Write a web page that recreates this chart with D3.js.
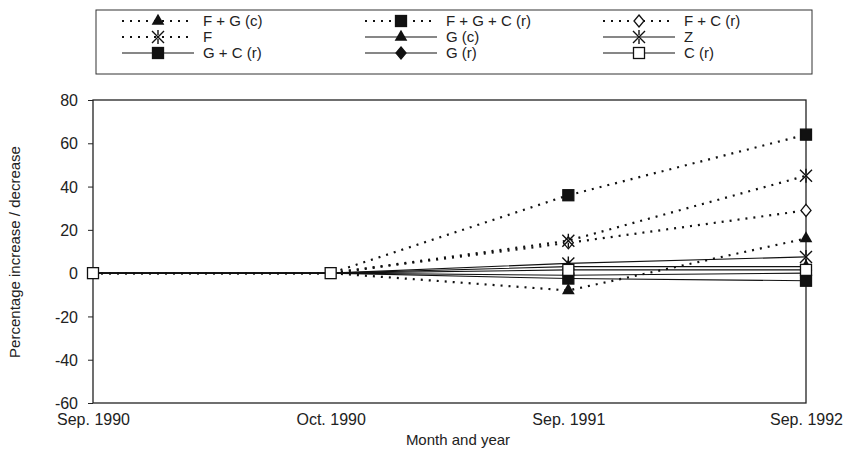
<!DOCTYPE html>
<html>
<head>
<meta charset="utf-8">
<script src="https://cdn.jsdelivr.net/npm/d3@7"></script>
<style>
    body { margin: 0; background: #fff; }
    text { font-family: "Liberation Sans", Arial, sans-serif; fill: #222; }
</style>
</head>
<body>
<div id="div_svg"></div>
<script>
// categories (x axis)
var categories = ["Sep. 1990", "Oct. 1990", "Sep. 1991", "Sep. 1992"];
var yTicks = [-60, -40, -20, 0, 20, 40, 60, 80];

// series values, percent change
var fg_c = [0, 0, -8, 16];
var fgc_r = [0, 0, 36, 64];
var fc_r = [0, 0, 14, 29];
var f_vals = [0, 0, 15, 45];
var g_c = [0, 0, 3, 3];
var z_vals = [0, 0, 4.5, 7.5];
var gc_r = [0, 0, -2.5, -3.5];
var g_r = [0, 0, -1, 0];
var c_r = [0, 0, 1.5, 1.5];

var seriesNames = ["F + G (c)", "F + G + C (r)", "F + C (r)", "F", "G (c)", "Z", "G + C (r)", "G (r)", "C (r)"];
var seriesVals = [fg_c, fgc_r, fc_r, f_vals, g_c, z_vals, gc_r, g_r, c_r];
var seriesDotted = [true, true, true, true, false, false, false, false, false];
var seriesMarker = ["tri", "sq", "dia", "ast", "tri", "ast", "sq", "dia", "osq"];

var width = 850, height = 450;
var pLeft = 93, pRight = 806, pTop = 100, pBottom = 403;

var svg = d3.select("#div_svg")
    .append("svg")
    .attr("width", width)
    .attr("height", height);

var x = d3.scalePoint().domain(categories).range([pLeft, pRight]);
var y = d3.scaleLinear().domain([-60, 80]).range([pBottom, pTop]);

// frame
svg.append("rect")
    .attr("x", pLeft).attr("y", pTop)
    .attr("width", pRight - pLeft).attr("height", pBottom - pTop)
    .attr("fill", "none").attr("stroke", "#222").attr("stroke-width", 1.3);

// y axis
var yAxis = svg.append("g")
    .attr("transform", "translate(" + pLeft + ",0)")
    .call(d3.axisLeft(y).tickValues(yTicks).tickSize(5).tickPadding(10)
        .tickFormat(function (d) { return String(d); }));
yAxis.select(".domain").remove();
yAxis.selectAll("text").style("font-size", "16px").attr("dy", "0.35em");
yAxis.selectAll("line").attr("stroke", "#222");

// x axis labels
var xAxis = svg.append("g")
    .attr("transform", "translate(0," + pBottom + ")")
    .call(d3.axisBottom(x).tickSize(0).tickPadding(11));
xAxis.select(".domain").remove();
xAxis.selectAll("text").style("font-size", "16px");

svg.append("text")
    .attr("x", 458).attr("y", 445)
    .attr("text-anchor", "middle")
    .style("font-size", "15px")
    .text("Month and year");

svg.append("text")
    .attr("transform", "translate(20," + 252 + ") rotate(-90)")
    .attr("text-anchor", "middle")
    .style("font-size", "15px")
    .text("Percentage increase / decrease");

var seriesFill = "#fff";
function drawMarker(g, kind, cx, cy) {
    if (kind == "tri") {
        g.append("path").attr("d", d3.symbol().type(d3.symbolTriangle).size(70)())
            .attr("transform", "translate(" + cx + "," + cy + ")")
            .attr("fill", "#111");
    } else if (kind == "sq" || kind == "osq") {
        g.append("rect")
            .attr("x", cx - 5.5).attr("y", cy - 5.5)
            .attr("width", 11).attr("height", 11)
            .attr("fill", kind == "sq" ? "#111" : "#fff")
            .attr("stroke", "#111").attr("stroke-width", 1.3);
    } else if (kind == "dia") {
        g.append("path").attr("d", "M0,-6L5,0L0,6L-5,0Z")
            .attr("transform", "translate(" + cx + "," + cy + ")")
            .attr("fill", seriesFill).attr("stroke", "#111").attr("stroke-width", 1.3);
    } else if (kind == "ast") {
        g.append("path").attr("d", "M-6,-6L6,6M6,-6L-6,6M0,-7L0,-2M0,2L0,7")
            .attr("transform", "translate(" + cx + "," + cy + ")")
            .attr("fill", "none").attr("stroke", "#111").attr("stroke-width", 1.4);
    }
}

var line = d3.line()
    .x(function (d, i) { return x(categories[i]); })
    .y(function (d) { return y(d); });

// draw lines first, markers on top; C (r) last
for (var i = 0; i < seriesVals.length; i += 1) {
    svg.append("path")
        .datum(seriesVals[i])
        .attr("d", line)
        .attr("fill", "none")
        .attr("stroke", "#111")
        .attr("stroke-width", seriesDotted[i] ? 2.2 : 1.1)
        .attr("stroke-dasharray", seriesDotted[i] ? "2,6" : null);
}
var marks = svg.append("g");
for (var i = 0; i < seriesVals.length; i += 1) {
    seriesFill = seriesNames[i] == "G (r)" ? "#111" : "#fff";
    for (var j = 0; j < categories.length; j += 1) {
        // points at zero are all covered by the C (r) marker
        if (seriesVals[i][j] == 0 && j < 2 && seriesMarker[i] != "osq") continue;
        drawMarker(marks, seriesMarker[i], x(categories[j]), y(seriesVals[i][j]));
    }
}

// legend
svg.append("rect")
    .attr("x", 96).attr("y", 10)
    .attr("width", 716).attr("height", 64)
    .attr("fill", "none").attr("stroke", "#333").attr("stroke-width", 1);

var legCol = [122, 365, 603];
var legRow = [21, 37, 53];
var legend = svg.append("g");
for (var i = 0; i < seriesNames.length; i += 1) {
    var lx = legCol[i % 3], ly = legRow[Math.floor(i / 3)];
    legend.append("line")
        .attr("x1", lx).attr("x2", lx + 72)
        .attr("y1", ly).attr("y2", ly)
        .attr("stroke", "#111")
        .attr("stroke-width", seriesDotted[i] ? 2 : 1.1)
        .attr("stroke-dasharray", seriesDotted[i] ? "2,6" : null);
    seriesFill = seriesNames[i] == "G (r)" ? "#111" : "#fff";
    drawMarker(legend, seriesMarker[i], lx + 36, ly);
    legend.append("text")
        .attr("x", lx + 81).attr("y", ly)
        .attr("dy", "0.35em")
        .style("font-size", "15px")
        .text(seriesNames[i]);
}
</script>
</body>
</html>
